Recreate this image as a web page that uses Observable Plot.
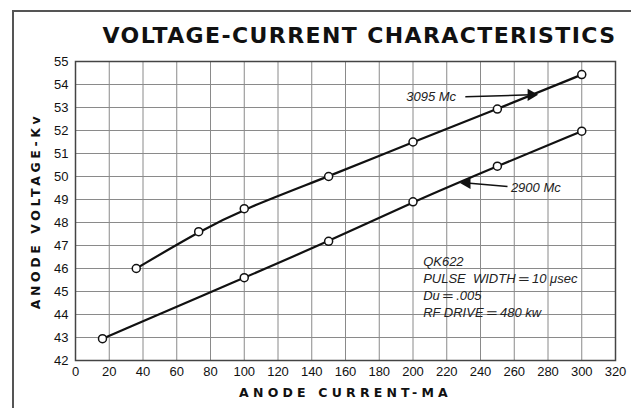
<!DOCTYPE html>
<html>
<head>
<meta charset="utf-8">
<script src="https://cdn.jsdelivr.net/npm/d3@7"></script>
<script src="https://cdn.jsdelivr.net/npm/@observablehq/plot@0.6"></script>
<style>
  html, body { margin: 0; padding: 0; background: #fff; }
  #wrap { position: relative; width: 631px; height: 408px; overflow: hidden; background: #fff; }
  #frame { position: absolute; left: 12px; top: 10px; width: 700px; height: 500px;
           border-top: 2px solid #555; border-left: 2px solid #555; }
  #title { position: absolute; left: 0; top: 22px; width: 631px; padding-left: 88px; box-sizing: border-box;
           text-align: center; font-family: "DejaVu Sans", Arial, sans-serif; font-weight: bold;
           font-size: 22px; letter-spacing: 1.4px; line-height: 28px; color: #111; }
  #chart { position: absolute; left: 0; top: 48px; }
  g[aria-label="x-axis label"] text { font-family: "DejaVu Sans", sans-serif; font-weight: bold; letter-spacing: 4.2px; font-size: 12.5px; }
  g[aria-label="y-axis label"] text { font-family: "DejaVu Sans", sans-serif; font-weight: bold; letter-spacing: 3.6px; font-size: 12.5px; }
  g[aria-label="x-axis tick label"] text, g[aria-label="y-axis tick label"] text { font-weight: 500; }
</style>
</head>
<body>
<div id="wrap">
  <div id="frame"></div>
  <div id="title">VOLTAGE-CURRENT CHARACTERISTICS</div>
  <div id="chart"></div>
</div>
<script>
// Data
const current3095 = [36, 73, 100, 150, 200, 250, 300];
const voltage3095 = [46.0, 47.6, 48.6, 50.0, 51.5, 52.93, 54.43];
const current2900 = [16, 100, 150, 200, 250, 300];
const voltage2900 = [42.95, 45.6, 47.18, 48.9, 50.45, 51.97];

const xTicks = [0, 20, 40, 60, 80, 100, 120, 140, 160, 180, 200, 220, 240, 260, 280, 300, 320];
const yTicks = [42, 43, 44, 45, 46, 47, 48, 49, 50, 51, 52, 53, 54, 55];

const seriesLabels = ["3095 Mc", "2900 Mc"];
const labelX = [196, 258];
const labelY = [53.45, 49.52];
const arrowTailX = [231, 256];
const arrowTailY = [53.47, 49.56];
const arrowTipX = [270, 232];
const arrowTipY = [53.55, 49.72];
const arrowRotate = [90, -90];

const noteLines = ["QK622", "PULSE  WIDTH ═ 10 μsec", "Du ═ .005", "RF DRIVE ═ 480 kw"];

const s3095 = current3095.map((c, i) => ({x: c, y: voltage3095[i]}));
const s2900 = current2900.map((c, i) => ({x: c, y: voltage2900[i]}));
const labels = seriesLabels.map((t, i) => ({t, x: labelX[i], y: labelY[i], x1: arrowTailX[i], y1: arrowTailY[i], x2: arrowTipX[i], y2: arrowTipY[i], r: arrowRotate[i]}));

const font = '"Liberation Sans", Arial, sans-serif';

const chart = Plot.plot({
  width: 631,
  height: 360,
  marginTop: 13,
  marginBottom: 48,
  marginLeft: 75,
  marginRight: 16,
  style: {fontFamily: font, fontSize: "13px", color: "#111", background: "transparent"},
  x: {domain: [0, 320]},
  y: {domain: [42, 55]},
  marks: [
    Plot.gridX(xTicks, {stroke: "#8a8a8a", strokeOpacity: 1, strokeWidth: 1}),
    Plot.gridY(yTicks, {stroke: "#8a8a8a", strokeOpacity: 1, strokeWidth: 1}),
    Plot.frame({stroke: "#444", strokeWidth: 1.5}),
    Plot.axisX(xTicks, {tickSize: 0, tickPadding: 6, fontSize: 13, label: "ANODE CURRENT-MA", labelAnchor: "center", labelOffset: 36, labelArrow: "none"}),
    Plot.axisY(yTicks, {tickSize: 0, tickPadding: 7, fontSize: 13, label: "ANODE VOLTAGE-Kv", labelAnchor: "center", labelOffset: 44, labelArrow: "none"}),
    Plot.line(s3095, {x: "x", y: "y", stroke: "#111", strokeWidth: 2.2, curve: "basis"}),
    Plot.line(s2900, {x: "x", y: "y", stroke: "#111", strokeWidth: 2.2, curve: "basis"}),
    Plot.dot(s3095, {x: "x", y: "y", r: 4, fill: "white", stroke: "#111", strokeWidth: 1.5}),
    Plot.dot(s2900, {x: "x", y: "y", r: 4, fill: "white", stroke: "#111", strokeWidth: 1.5}),
    Plot.link(labels, {x1: "x1", y1: "y1", x2: "x2", y2: "y2", stroke: "#111", strokeWidth: 1.5}),
    Plot.dot(labels, {x: "x2", y: "y2", symbol: "triangle", r: 4.5, fill: "#111", rotate: "r"}),
    Plot.text(labels, {x: "x", y: "y", text: "t", textAnchor: "start", fontSize: 13, fontStyle: "italic", fill: "#222"}),
    Plot.text([noteLines.join("\n")], {x: 206, y: 45.25, text: d => d, textAnchor: "start", lineAnchor: "middle", lineHeight: 1.32, fontSize: 13, fontStyle: "italic", fill: "#222"})
  ]
});
document.getElementById("chart").appendChild(chart);
</script>
</body>
</html>
